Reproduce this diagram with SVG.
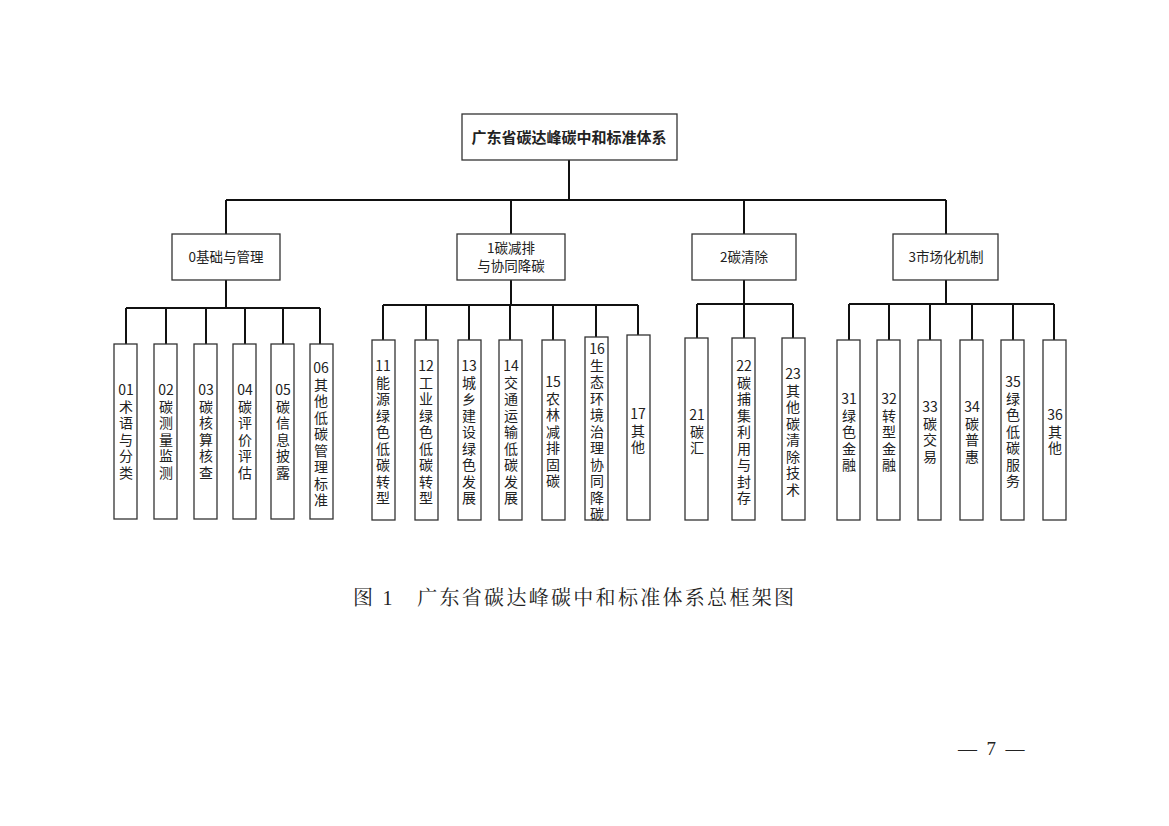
<svg xmlns="http://www.w3.org/2000/svg" width="1169" height="826" viewBox="0 0 1169 826">
<style>
.b{fill:#fff;stroke:#333;stroke-width:1.3}
.c{stroke:#111;stroke-width:2;fill:none}
.t{font-family:"Noto Sans CJK SC",sans-serif;font-size:13.5px;fill:#222;text-anchor:middle}
.v{font-family:"Noto Sans CJK SC",sans-serif;font-size:14px;fill:#222;text-anchor:middle}
.cap{font-family:"Liberation Serif","Noto Serif CJK SC","Noto Sans CJK SC",serif;font-size:20px;fill:#222}
</style>
<rect width="1169" height="826" fill="#fff"/>
<g id="connectors" class="c">
<path d="M569 160V200M226 200H946M226 200V234M511 200V234M744 200V234M946 200V234"/>
<path d="M226 280V308M126 308H320M126 308V344M166 308V344M206 308V344M245 308V344M283 308V344M320 308V344"/>
<path d="M511 280V305M383 305H638M383 305V340M426 305V340M469 305V340M510 305V340M553 305V340M596 305V337M638 305V335"/>
<path d="M744 280V304M697 304H793M697 304V338M744 304V338M793 304V338"/>
<path d="M946 280V304M849 304H1054M849 304V340M889 304V340M930 304V340M972 304V340M1013 304V340M1054 304V340"/>
</g>
<g id="root"><rect class="b" x="462" y="114" width="215" height="46"/><text x="569" y="143" class="t" style="font-weight:bold;font-size:15px">广东省碳达峰碳中和标准体系</text></g>
<g id="n0"><rect class="b" x="172" y="234" width="108" height="46"/><text x="226" y="262" class="t">0基础与管理</text></g>
<g id="n1"><rect class="b" x="457" y="234" width="108" height="46"/><text x="511" y="253" class="t">1碳减排</text><text x="511" y="271" class="t">与协同降碳</text></g>
<g id="n2"><rect class="b" x="692" y="234" width="104" height="46"/><text x="744" y="262" class="t">2碳清除</text></g>
<g id="n3"><rect class="b" x="893" y="234" width="105" height="46"/><text x="946" y="262" class="t">3市场化机制</text></g>

<g id="n01"><rect class="b" x="114" y="344" width="23" height="175"/><text class="v" x="126"><tspan x="126" y="395">01</tspan><tspan x="126" dy="16.5">术</tspan><tspan x="126" dy="16.5">语</tspan><tspan x="126" dy="16.5">与</tspan><tspan x="126" dy="16.5">分</tspan><tspan x="126" dy="16.5">类</tspan></text></g>
<g id="n02"><rect class="b" x="154" y="344" width="23" height="175"/><text class="v"><tspan x="166" y="395">02</tspan><tspan x="166" dy="16.5">碳</tspan><tspan x="166" dy="16.5">测</tspan><tspan x="166" dy="16.5">量</tspan><tspan x="166" dy="16.5">监</tspan><tspan x="166" dy="16.5">测</tspan></text></g>
<g id="n03"><rect class="b" x="194" y="344" width="23" height="175"/><text class="v"><tspan x="206" y="395">03</tspan><tspan x="206" dy="16.5">碳</tspan><tspan x="206" dy="16.5">核</tspan><tspan x="206" dy="16.5">算</tspan><tspan x="206" dy="16.5">核</tspan><tspan x="206" dy="16.5">查</tspan></text></g>
<g id="n04"><rect class="b" x="233" y="344" width="23" height="175"/><text class="v"><tspan x="245" y="395">04</tspan><tspan x="245" dy="16.5">碳</tspan><tspan x="245" dy="16.5">评</tspan><tspan x="245" dy="16.5">价</tspan><tspan x="245" dy="16.5">评</tspan><tspan x="245" dy="16.5">估</tspan></text></g>
<g id="n05"><rect class="b" x="271" y="344" width="23" height="175"/><text class="v"><tspan x="283" y="395">05</tspan><tspan x="283" dy="16.5">碳</tspan><tspan x="283" dy="16.5">信</tspan><tspan x="283" dy="16.5">息</tspan><tspan x="283" dy="16.5">披</tspan><tspan x="283" dy="16.5">露</tspan></text></g>
<g id="n06"><rect class="b" x="310" y="344" width="23" height="175"/><text class="v"><tspan x="321" y="373">06</tspan><tspan x="321" dy="16.5">其</tspan><tspan x="321" dy="16.5">他</tspan><tspan x="321" dy="16.5">低</tspan><tspan x="321" dy="16.5">碳</tspan><tspan x="321" dy="16.5">管</tspan><tspan x="321" dy="16.5">理</tspan><tspan x="321" dy="16.5">标</tspan><tspan x="321" dy="16.5">准</tspan></text></g>

<g id="n11"><rect class="b" x="372" y="340" width="23" height="180"/><text class="v"><tspan x="383" y="371">11</tspan><tspan x="383" dy="16.5">能</tspan><tspan x="383" dy="16.5">源</tspan><tspan x="383" dy="16.5">绿</tspan><tspan x="383" dy="16.5">色</tspan><tspan x="383" dy="16.5">低</tspan><tspan x="383" dy="16.5">碳</tspan><tspan x="383" dy="16.5">转</tspan><tspan x="383" dy="16.5">型</tspan></text></g>
<g id="n12"><rect class="b" x="415" y="340" width="23" height="180"/><text class="v"><tspan x="426" y="371">12</tspan><tspan x="426" dy="16.5">工</tspan><tspan x="426" dy="16.5">业</tspan><tspan x="426" dy="16.5">绿</tspan><tspan x="426" dy="16.5">色</tspan><tspan x="426" dy="16.5">低</tspan><tspan x="426" dy="16.5">碳</tspan><tspan x="426" dy="16.5">转</tspan><tspan x="426" dy="16.5">型</tspan></text></g>
<g id="n13"><rect class="b" x="458" y="340" width="23" height="180"/><text class="v"><tspan x="469" y="371">13</tspan><tspan x="469" dy="16.5">城</tspan><tspan x="469" dy="16.5">乡</tspan><tspan x="469" dy="16.5">建</tspan><tspan x="469" dy="16.5">设</tspan><tspan x="469" dy="16.5">绿</tspan><tspan x="469" dy="16.5">色</tspan><tspan x="469" dy="16.5">发</tspan><tspan x="469" dy="16.5">展</tspan></text></g>
<g id="n14"><rect class="b" x="499" y="340" width="23" height="180"/><text class="v"><tspan x="511" y="371">14</tspan><tspan x="511" dy="16.5">交</tspan><tspan x="511" dy="16.5">通</tspan><tspan x="511" dy="16.5">运</tspan><tspan x="511" dy="16.5">输</tspan><tspan x="511" dy="16.5">低</tspan><tspan x="511" dy="16.5">碳</tspan><tspan x="511" dy="16.5">发</tspan><tspan x="511" dy="16.5">展</tspan></text></g>
<g id="n15"><rect class="b" x="542" y="340" width="23" height="180"/><text class="v"><tspan x="553" y="387">15</tspan><tspan x="553" dy="16.5">农</tspan><tspan x="553" dy="16.5">林</tspan><tspan x="553" dy="16.5">减</tspan><tspan x="553" dy="16.5">排</tspan><tspan x="553" dy="16.5">固</tspan><tspan x="553" dy="16.5">碳</tspan></text></g>
<g id="n16"><rect class="b" x="585" y="337" width="23" height="183"/><text class="v"><tspan x="597" y="354">16</tspan><tspan x="597" dy="16.5">生</tspan><tspan x="597" dy="16.5">态</tspan><tspan x="597" dy="16.5">环</tspan><tspan x="597" dy="16.5">境</tspan><tspan x="597" dy="16.5">治</tspan><tspan x="597" dy="16.5">理</tspan><tspan x="597" dy="16.5">协</tspan><tspan x="597" dy="16.5">同</tspan><tspan x="597" dy="16.5">降</tspan><tspan x="597" dy="16.5">碳</tspan></text></g>
<g id="n17"><rect class="b" x="627" y="335" width="23" height="185"/><text class="v"><tspan x="638" y="419">17</tspan><tspan x="638" dy="16.5">其</tspan><tspan x="638" dy="16.5">他</tspan></text></g>

<g id="n21"><rect class="b" x="685" y="338" width="23" height="182"/><text class="v"><tspan x="697" y="420">21</tspan><tspan x="697" dy="16.5">碳</tspan><tspan x="697" dy="16.5">汇</tspan></text></g>
<g id="n22"><rect class="b" x="732" y="338" width="23" height="182"/><text class="v"><tspan x="744" y="371">22</tspan><tspan x="744" dy="16.5">碳</tspan><tspan x="744" dy="16.5">捕</tspan><tspan x="744" dy="16.5">集</tspan><tspan x="744" dy="16.5">利</tspan><tspan x="744" dy="16.5">用</tspan><tspan x="744" dy="16.5">与</tspan><tspan x="744" dy="16.5">封</tspan><tspan x="744" dy="16.5">存</tspan></text></g>
<g id="n23"><rect class="b" x="782" y="338" width="23" height="182"/><text class="v"><tspan x="793" y="379">23</tspan><tspan x="793" dy="16.5">其</tspan><tspan x="793" dy="16.5">他</tspan><tspan x="793" dy="16.5">碳</tspan><tspan x="793" dy="16.5">清</tspan><tspan x="793" dy="16.5">除</tspan><tspan x="793" dy="16.5">技</tspan><tspan x="793" dy="16.5">术</tspan></text></g>

<g id="n31"><rect class="b" x="837" y="340" width="23" height="180"/><text class="v"><tspan x="849" y="404">31</tspan><tspan x="849" dy="16.5">绿</tspan><tspan x="849" dy="16.5">色</tspan><tspan x="849" dy="16.5">金</tspan><tspan x="849" dy="16.5">融</tspan></text></g>
<g id="n32"><rect class="b" x="877" y="340" width="23" height="180"/><text class="v"><tspan x="889" y="404">32</tspan><tspan x="889" dy="16.5">转</tspan><tspan x="889" dy="16.5">型</tspan><tspan x="889" dy="16.5">金</tspan><tspan x="889" dy="16.5">融</tspan></text></g>
<g id="n33"><rect class="b" x="918" y="340" width="23" height="180"/><text class="v"><tspan x="930" y="412">33</tspan><tspan x="930" dy="16.5">碳</tspan><tspan x="930" dy="16.5">交</tspan><tspan x="930" dy="16.5">易</tspan></text></g>
<g id="n34"><rect class="b" x="960" y="340" width="23" height="180"/><text class="v"><tspan x="972" y="412">34</tspan><tspan x="972" dy="16.5">碳</tspan><tspan x="972" dy="16.5">普</tspan><tspan x="972" dy="16.5">惠</tspan></text></g>
<g id="n35"><rect class="b" x="1001" y="340" width="23" height="180"/><text class="v"><tspan x="1013" y="387">35</tspan><tspan x="1013" dy="16.5">绿</tspan><tspan x="1013" dy="16.5">色</tspan><tspan x="1013" dy="16.5">低</tspan><tspan x="1013" dy="16.5">碳</tspan><tspan x="1013" dy="16.5">服</tspan><tspan x="1013" dy="16.5">务</tspan></text></g>
<g id="n36"><rect class="b" x="1043" y="340" width="23" height="180"/><text class="v"><tspan x="1055" y="420">36</tspan><tspan x="1055" dy="16.5">其</tspan><tspan x="1055" dy="16.5">他</tspan></text></g>

<text class="cap" x="353" y="605" style="letter-spacing:2.3px">图 1　广东省碳达峰碳中和标准体系总框架图</text>
<text class="cap" x="958" y="755" style="font-size:19px" xml:space="preserve">—  7  —</text>
</svg>
